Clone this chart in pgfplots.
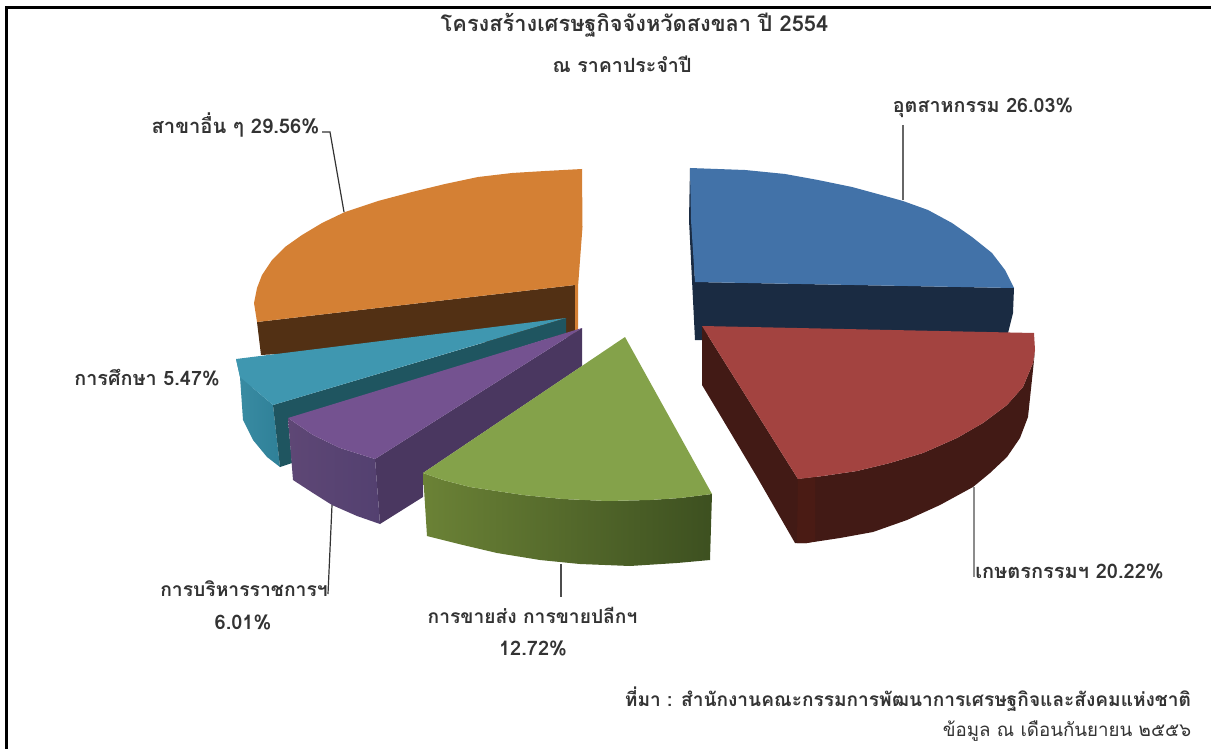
\documentclass[border=0pt]{standalone}
\usepackage{pgfplots}
\pgfplotsset{compat=1.18}
\usepackage{fontspec}
\setmainfont{Liberation Sans}
\newfontfamily\thai[Script=Thai]{Loma}
\definecolor{oT}{HTML}{D48034}\definecolor{oD}{HTML}{523014}
\definecolor{bT}{HTML}{4272A8}\definecolor{bD}{HTML}{1A2B42}
\definecolor{rT}{HTML}{A34340}\definecolor{rD}{HTML}{421A15}\definecolor{rE}{HTML}{4A1B14}
\definecolor{gT}{HTML}{84A24A}\definecolor{gA}{HTML}{6B8236}\definecolor{gB}{HTML}{566B2E}\definecolor{gC}{HTML}{3D5020}
\definecolor{pT}{HTML}{745290}\definecolor{pD}{HTML}{4A3760}\definecolor{pA}{HTML}{5E4775}\definecolor{pB}{HTML}{534070}
\definecolor{tT}{HTML}{3F97B0}\definecolor{tD}{HTML}{1F5560}\definecolor{tA}{HTML}{3A8CA3}\definecolor{tB}{HTML}{2F8098}
\definecolor{txt}{HTML}{333333}
\newcommand{\lab}[4]{\node[text=txt,inner sep=0pt,anchor=center] at (axis cs:#1,#2) {\fontsize{#3}{#3}\thai #4};}
\begin{document}
\begin{tikzpicture}
\path (0,0) rectangle (1211pt,749pt);
\begin{axis}[scale only axis,width=1211pt,height=749pt,xmin=0,xmax=1211,ymin=0,ymax=749,y dir=reverse,hide axis,clip=true]
% frame
\addplot[black,line width=2.5pt] coordinates {(6.5,749)(6.5,7.5)(1211,7.5)};
% orange
\addplot[fill=oD,draw=none] coordinates {(257,322)(575,285)(576,337)(261,355)} --cycle;
\addplot[fill=oT,draw=none] coordinates {(582,169)(545,171)(512,173)(478,177)(445,184)(412,192)(378,201)(345,212)(322,223)(302,235)(285,247)(272,260)(262,275)(257,288)(254,303)(257,322)(575,285)(575,337)(578,337)(578,287)(582.5,227)} --cycle;
% blue
\addplot[fill=bD,draw=none] coordinates {(690,168)(695,282)(1014,288)(1013,313)(1008,333)(702,336)(702,340)(695,340)(689,220)} --cycle;
\addplot[fill=bT,draw=none] coordinates {(690,168)(745,170)(785,174)(818,180)(852,187)(885,196)(903,201)(928,210)(952,223)(972,237)(992,253)(1005,270)(1014,288)(695,282)(691,220)} --cycle;
% teal
\addplot[draw=none,left color=tA,right color=tB] coordinates {(236,359)(240,377)(243,420)(253,440)(267,457)(280,467)(273,405)(253,388)} --cycle;
\addplot[fill=tD,draw=none] coordinates {(273,405)(560,320)(566,318)(566,333)(288,420)(292,463)(280,467)} --cycle;
\addplot[fill=tT,draw=none] coordinates {(566,318)(236,359)(240,377)(253,388)(273,405)} --cycle;
% purple
\addplot[fill=pD,draw=none] coordinates {(375,459)(582,328)(582,366)(423,473)(423,497)(380,524)} --cycle;
\addplot[draw=none,left color=pA,right color=pB] coordinates {(288,418)(313,435)(340,448)(375,459)(380,524)(357,516)(332,505)(313,493)(293,480)} --cycle;
\addplot[fill=pT,draw=none] coordinates {(582,328)(288,418)(313,435)(340,448)(375,459)} --cycle;
% green
\addplot[draw=none,left color=gA,middle color=gB,right color=gC] coordinates {(423,473)(443,480)(470,487)(523,495)(563,499)(607,501)(650,500)(680,498)(712,494)(710,560)(677,563)(630,566)(580,564)(540,560)(497,553)(463,545)(427,536)} --cycle;
\addplot[fill=gT,draw=none] coordinates {(625,337)(423,473)(443,480)(470,487)(523,495)(563,499)(607,501)(650,500)(680,498)(712,494)} --cycle;
% red
\addplot[fill=rD,draw=none] coordinates {(702,326)(717,350)(798,479)(823,476)(857,471)(890,463)(923,453)(957,438)(983,423)(1007,405)(1023,387)(1033,363)(1035,350)(1033,370)(1028,417)(1020,438)(1007,457)(990,473)(973,487)(940,505)(907,520)(873,532)(840,538)(807,543)(795,543)(757,477)(723,420)(702,385)} --cycle;
\addplot[fill=rE,draw=none] coordinates {(798,479)(815,477)(815,541)(807,543)(797,543)} --cycle;
\addplot[fill=rT,draw=none] coordinates {(702,326)(1034,333)(1035,350)(1033,363)(1023,387)(1007,405)(983,423)(957,438)(923,453)(890,463)(857,471)(823,476)(798,479)(717,350)} --cycle;
% leaders
\addplot[black!80,line width=1.2pt] coordinates {(322,132)(330,132)(344,212)};
\addplot[black!60,line width=1.2pt] coordinates {(903,125)(903,200)};
\addplot[black!45,line width=1.6pt] coordinates {(974,487)(974,577)};
\addplot[black!70,line width=1.2pt] coordinates {(561,564)(561,597)};
\addplot[black!80,line width=1.2pt] coordinates {(332,505)(328,594)};
% text
\lab{634.5}{25}{21.8}{\bfseries โครงสร้างเศรษฐกิจจังหวัดสงขลา ปี 2554}
\lab{622}{64}{19.6}{\bfseries ณ ราคาประจำปี}
\lab{983}{108}{19.7}{\bfseries อุตสาหกรรม 26.03\%}
\lab{235.5}{125}{20.2}{\bfseries สาขาอื่น ๆ 29.56\%}
\lab{147}{378}{19.8}{\bfseries การศึกษา 5.47\%}
\lab{244}{589}{19.3}{\bfseries การบริหารราชการฯ}
\lab{243}{622}{20}{\bfseries 6.01\%}
\lab{532.5}{615}{19.2}{\bfseries การขายส่ง การขายปลีกฯ}
\lab{533}{648}{20}{\bfseries 12.72\%}
\lab{1069.5}{571}{20}{\bfseries เกษตรกรรมฯ 20.22\%}
\lab{908}{699}{19.1}{\bfseries ที่มา : สำนักงานคณะกรรมการพัฒนาการเศรษฐกิจและสังคมแห่งชาติ}
\lab{1067}{731}{18.7}{ข้อมูล ณ เดือนกันยายน ๒๕๕๖}
\end{axis}
\end{tikzpicture}
\end{document}
